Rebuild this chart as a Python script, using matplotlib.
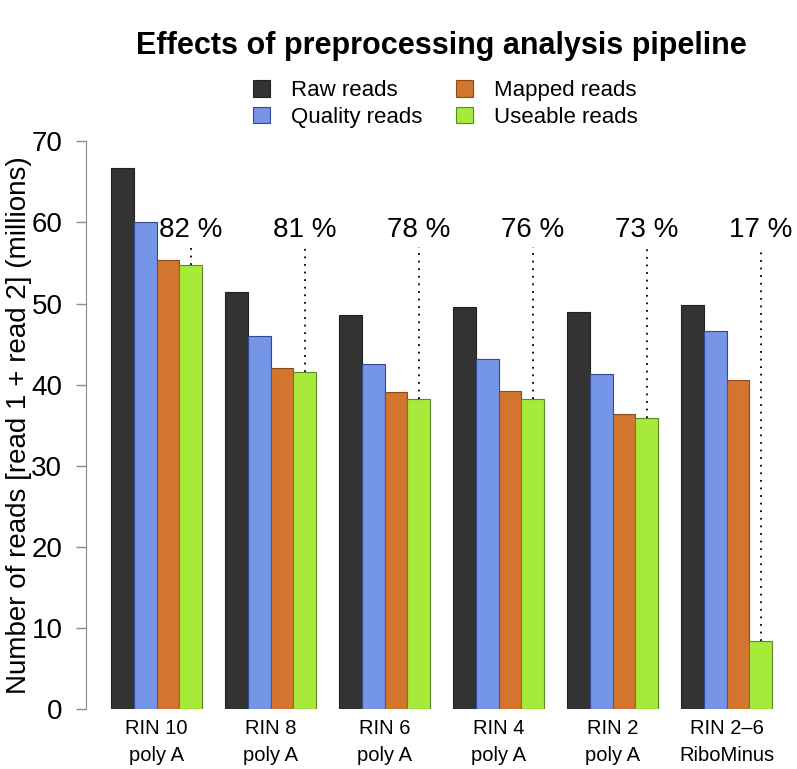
import numpy as np
import matplotlib
matplotlib.use('Agg')
import matplotlib.pyplot as plt
from matplotlib.patches import Patch

# data (millions of reads)
groups = ['RIN 10\npoly A', 'RIN 8\npoly A', 'RIN 6\npoly A',
          'RIN 4\npoly A', 'RIN 2\npoly A', 'RIN 2\u20136\nRiboMinus']
series = ['Raw reads', 'Quality reads', 'Mapped reads', 'Useable reads']
raw = [66.7, 51.4, 48.6, 49.6, 49.0, 49.8]
quality = [60.0, 46.0, 42.5, 43.2, 41.3, 46.6]
mapped = [55.4, 42.1, 39.1, 39.2, 36.4, 40.6]
useable = [54.8, 41.6, 38.2, 38.2, 35.9, 8.4]
pct_labels = ['82 %', '81 %', '78 %', '76 %', '73 %', '17 %']

fills = ['#333333', '#7595E6', '#D3742F', '#A6EA3A']
edges = ['#222222', '#34498F', '#8A4A1C', '#5C8A28']

plt.rcParams['font.family'] = ['Liberation Sans', 'DejaVu Sans']

W, H = 797, 769
fig = plt.figure(figsize=(W / 100, H / 100), dpi=100)

# pixel layout: y=0 at 709 px, 8.11 px per unit; x unit = 22.8 px
px_unit_y = 8.11
ytop = 80
ax_left, ax_right = 86, 798.6
ax = fig.add_axes([ax_left / W, (H - 709) / H,
                   (ax_right - ax_left) / W, ytop * px_unit_y / H])
ax.set_xlim(-0.1, 31.16)
ax.set_ylim(0, ytop)

vals = [raw, quality, mapped, useable]
n = len(groups)
for j in range(4):
    xs = [1 + 5 * i + j + 0.5 for i in range(n)]
    ax.bar(xs, vals[j], width=1.0, color=fills[j], edgecolor=edges[j],
           linewidth=0.8, zorder=2)

# percentage labels and dotted guide lines
for i in range(n):
    xc = 1 + 5 * i + 3.5
    ax.plot([xc, xc], [useable[i], 57.0], color='black', lw=1.3,
            linestyle=(0, (1, 3.2)), zorder=3)
    ax.text(xc, 58.25, pct_labels[i], ha='center', va='baseline', fontsize=20)

# axes styling (R-like)
for s in ['top', 'right', 'bottom']:
    ax.spines[s].set_visible(False)
ax.spines['left'].set_bounds(0, 70)
ax.spines['left'].set_color('#8c8c8c')
ax.set_yticks(range(0, 71, 10))
ax.tick_params(axis='y', length=7, width=1, color='#8c8c8c',
               labelsize=20, pad=10)
ax.set_xticks([3 + 5 * i for i in range(n)])
ax.set_xticklabels(groups, fontsize=14.5, linespacing=1.55)
ax.tick_params(axis='x', length=0, pad=7)

ax.set_ylabel('Number of reads [read 1 + read 2] (millions)', fontsize=20)
ax.yaxis.set_label_coords((32 - ax_left) / (ax_right - ax_left), 35 / ytop)

fig.text(441 / W, 1 - 46 / H, 'Effects of preprocessing analysis pipeline',
         ha='center', va='center', fontsize=22, fontweight='bold')

handles = [Patch(facecolor=fills[j], edgecolor=edges[j], linewidth=0.8,
                 label=series[j]) for j in range(4)]
fig.legend(handles=handles, loc='upper left', ncol=2,
           bbox_to_anchor=(253 / W, 1 - 80 / H), frameon=False,
           fontsize=16, handlelength=0.77, handleheight=0.77,
           handletextpad=0.95, columnspacing=1.5, labelspacing=0.25,
           borderpad=0, borderaxespad=0)

fig.savefig('out.png', dpi=100)
